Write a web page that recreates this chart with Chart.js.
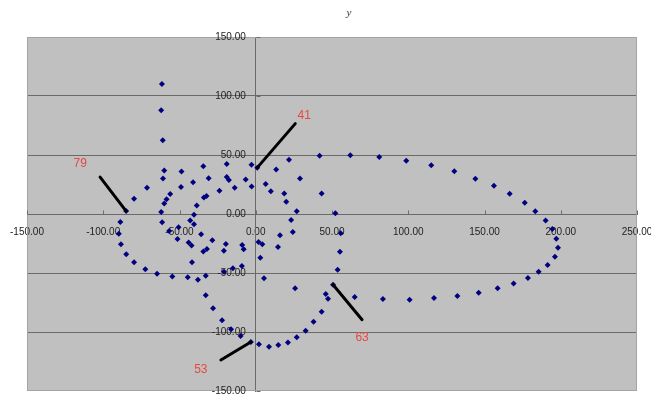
<!DOCTYPE html>
<html>
<head>
<meta charset="utf-8">
<script src="https://cdn.jsdelivr.net/npm/chart.js@4.4.1/dist/chart.umd.min.js"></script>
<style>
html,body{margin:0;padding:0;background:#ffffff;}
#wrap{width:651px;height:394px;}
</style>
</head>
<body>
<div id="wrap"><canvas id="c" width="651" height="394"></canvas></div>
<script>
// Point coordinates (x, y)
const xValues = [
  41.9, 62, 81, 98.7, 115.1, 130.2, 144, 156.2, 166.5, 176.4,
  183.3, 190.1, 194.5, 197.1, 198.2, 196.2, 191.4, 185.5, 178.5, 169.1,
  158.6, 146.2, 132.2, 116.9, 100.9, 83.4, 64.9, 50.7, 47.4, 45.9,
  43.2, 37.9, 32.7, 26.9, 21.1, 14.8, 8.7, 2.1, -3.2, -9.9,
  -16.2, -22.1, -28, -32.8, -32.8, -37.9, -44.6, -54.7, -64.7, -72.4,
  -79.8, -84.9, -88.4, -89.8, -88.8, -85, -79.8, -71.3, -60.8, -60,
  -61, -62, -61.5,
  -48.7, -34.4, -19, -2.8, 1, 13.4, 21.8, 29, -49, -41.1,
  -30.9, -19, -17.6, -6.6, -2.7, -13.8, -23.8, 6.5, 9.9, 18.7,
  20, 43.2, 26.9, 23.2, 24.3, 52.2, 55.7, 55.2, 53.7, 25.8,
  -56.1, -58.5, -60, -62, -61.4, -50.6, -56.8, -51.3, -43, -40.5,
  -40.5, -38.7, -34, -32.3, -35.8, -28.5, -44, -42.1, -41.8, -34.4,
  -32, -19.6, -20.9, -8.9, -7.9, -20.8, -15, -9.1, 1.8, 4.3,
  3, 5.4, 14.6, 15.9
];
const yValues = [
  49.4, 49.7, 48.3, 45.2, 41.3, 36.2, 29.9, 24, 17.2, 9.6,
  2.3, -5.6, -12.7, -20.9, -28.5, -36.2, -43.2, -48.9, -54.2, -59,
  -63, -66.7, -69.5, -71.2, -72.6, -72, -70.3, -59.9, -71.8, -67.8,
  -82.8, -91.4, -99, -104.4, -109, -111, -112.4, -110.4, -108.5, -103.4,
  -97.7, -90.1, -79.9, -68.9, -52.3, -55.8, -53.6, -52.9, -50.6, -46.8,
  -40.8, -34.2, -25.7, -16.8, -6.8, 2.5, 13, 22.3, 30, 36.9,
  62.4, 87.9, 110.2,
  36, 40.4, 42.4, 41.7, 39.3, 37.7, 46, 30.1, 22.8, 27,
  30.2, 31.4, 28.8, 29.3, 23.3, 22.2, 19.6, 25.5, 19.2, 17.3,
  10.3, 17.3, 2.4, -5, -15.3, 0.6, -16.4, -31.9, -47.2, -63,
  17, 12.4, 9, 1.8, -6.9, -11.2, -14.4, -21.2, -5.6, -8.6,
  -0.7, 7.2, 14, 15.2, -17.1, -22.2, -24.2, -26.7, -40.9, -31.8,
  -29.7, -25.4, -31.1, -26.2, -29.8, -48.9, -46, -44, -23.8, -25.6,
  -37, -54.5, -28, -18.1
];
const xTicks = [-150, -100, -50, 0, 50, 100, 150, 200, 250];
const yTicks = [-150, -100, -50, 0, 50, 100, 150];
const calloutIndex = [67, 55, 27, 38];
const calloutText = ['41', '79', '63', '53'];
const titleText = 'y';

const points = xValues.map((x, i) => ({ x: x, y: yValues[i] }));
const fmt = v => Number(v).toFixed(2);

// Leader line end and label centre, in pixels relative to the marked point
const calloutGeometry = [
  { lx: 38, ly: -44, tx: 47, ty: -52 },
  { lx: -26, ly: -34, tx: -46, ty: -47 },
  { lx: 29, ly: 35, tx: 29, ty: 53 },
  { lx: -30, ly: 18, tx: -50, ty: 28 }
];

const LABEL_FONT = '10px "Liberation Sans", Arial, sans-serif';
const AXIS_COLOR = '#6a6a6a';

const frameAndTicks = {
  id: 'frameAndTicks',
  beforeDraw(chart) {
    const { ctx, chartArea: a } = chart;
    ctx.save();
    ctx.fillStyle = '#c0c0c0';
    ctx.fillRect(a.left, a.top, a.right - a.left, a.bottom - a.top);
    ctx.restore();
  },
  beforeDatasetsDraw(chart) {
    const { ctx, chartArea: a, scales } = chart;
    const xs = scales.x, ys = scales.y;
    ctx.save();
    ctx.strokeStyle = '#a4a4a4';
    ctx.lineWidth = 1;
    ctx.strokeRect(a.left + 0.5, a.top + 0.5, a.right - a.left - 1, a.bottom - a.top - 1);
    ctx.strokeStyle = AXIS_COLOR;
    const y0 = Math.round(ys.getPixelForValue(0)) + 0.5;
    xTicks.forEach(v => {
      const px = Math.round(xs.getPixelForValue(v)) + 0.5;
      ctx.beginPath(); ctx.moveTo(px, y0); ctx.lineTo(px, y0 - 4); ctx.stroke();
    });
    const x0 = Math.round(xs.getPixelForValue(0)) + 0.5;
    yTicks.forEach(v => {
      const py = Math.round(ys.getPixelForValue(v)) + 0.5;
      ctx.beginPath(); ctx.moveTo(x0, py); ctx.lineTo(x0 + 4, py); ctx.stroke();
    });
    // value labels of the vertical axis, set off to the left of the axis line
    ctx.fillStyle = '#222222';
    ctx.font = LABEL_FONT;
    ctx.textAlign = 'right';
    ctx.textBaseline = 'middle';
    yTicks.forEach(v => {
      ctx.fillText(fmt(v), xs.getPixelForValue(0) - 10, ys.getPixelForValue(v));
    });
    ctx.restore();
  },
  afterDatasetsDraw(chart) {
    const { ctx } = chart;
    const meta = chart.getDatasetMeta(0);
    ctx.save();
    ctx.lineWidth = 3;
    ctx.lineCap = 'round';
    ctx.strokeStyle = '#000000';
    ctx.fillStyle = '#e8483f';
    ctx.font = '12px "Liberation Sans", Arial, sans-serif';
    ctx.textAlign = 'center';
    ctx.textBaseline = 'middle';
    calloutIndex.forEach((idx, k) => {
      const el = meta.data[idx];
      const g = calloutGeometry[k];
      ctx.beginPath();
      ctx.moveTo(el.x, el.y);
      ctx.lineTo(el.x + g.lx, el.y + g.ly);
      ctx.stroke();
      ctx.fillText(calloutText[k], el.x + g.tx, el.y + g.ty);
    });
    ctx.restore();
  },
  afterDraw(chart) {
    const { ctx, chartArea: a } = chart;
    ctx.save();
    ctx.fillStyle = '#333333';
    ctx.font = 'italic 11px "Liberation Serif", "DejaVu Serif", serif';
    ctx.textAlign = 'center';
    ctx.textBaseline = 'middle';
    ctx.fillText(titleText, (a.left + a.right) / 2 + 17, a.top - 24);
    ctx.restore();
  }
};

new Chart(document.getElementById('c'), {
  type: 'scatter',
  data: {
    datasets: [{
      data: points,
      pointStyle: 'rectRot',
      radius: 3,
      hoverRadius: 3,
      backgroundColor: '#000080',
      borderColor: '#000080',
      borderWidth: 0
    }]
  },
  options: {
    responsive: false,
    animation: false,
    events: [],
    layout: { padding: { left: 27, right: 14, top: 37, bottom: 3 } },
    plugins: { legend: { display: false }, title: { display: false }, tooltip: { enabled: false } },
    scales: {
      x: {
        type: 'linear',
        position: { y: 0 },
        min: -150, max: 250,
        afterBuildTicks: s => { s.ticks = xTicks.map(v => ({ value: v })); },
        afterFit: s => { s.paddingLeft = 0; s.paddingRight = 0; s.paddingTop = 0; s.paddingBottom = 0; },
        grid: { display: true, drawOnChartArea: false, drawTicks: false },
        border: { display: true, color: AXIS_COLOR, width: 1 },
        ticks: {
          autoSkip: false, maxRotation: 0, padding: 12,
          color: '#222222', font: { family: '"Liberation Sans", Arial, sans-serif', size: 10 },
          callback: v => fmt(v)
        }
      },
      y: {
        type: 'linear',
        position: { x: 0 },
        min: -150, max: 150,
        afterBuildTicks: s => { s.ticks = yTicks.map(v => ({ value: v })); },
        afterFit: s => { s.paddingLeft = 0; s.paddingRight = 0; s.paddingTop = 0; s.paddingBottom = 0; },
        grid: {
          display: true, drawTicks: false,
          color: ctx => (Math.abs(ctx.tick.value) === 150 || ctx.tick.value === 0) ? 'rgba(0,0,0,0)' : AXIS_COLOR
        },
        border: { display: true, color: AXIS_COLOR, width: 1 },
        ticks: { display: false }
      }
    }
  },
  plugins: [frameAndTicks]
});
</script>
</body>
</html>
